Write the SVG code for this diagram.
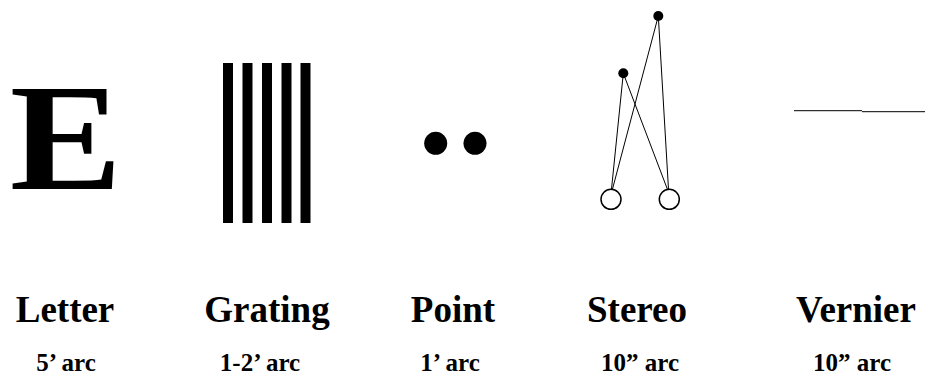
<svg xmlns="http://www.w3.org/2000/svg" width="925" height="376" viewBox="0 0 925 376">
  <style>
    .serif { font-family: "Liberation Serif", "Times New Roman", serif; font-weight: bold; fill: #000; text-anchor: middle; }
    .title { font-size: 37px; }
    .sub { font-size: 25px; }
    .thin { stroke: #000; stroke-width: 1; fill: none; }
  </style>
  <rect width="925" height="376" fill="#fff"/>

  <!-- Letter stimulus -->
  <g id="letter">
    <text class="serif" transform="translate(66 189) scale(1.1 1)" font-size="153">E</text>
    <text class="serif title" x="65" y="322">Letter</text>
    <text class="serif sub" x="66" y="371">5’ arc</text>
  </g>

  <!-- Grating stimulus -->
  <g id="grating">
    <g fill="#000">
      <rect x="223" y="63" width="10" height="160"/>
      <rect x="242.5" y="63" width="10" height="160"/>
      <rect x="262" y="63" width="10" height="160"/>
      <rect x="281.5" y="63" width="10" height="160"/>
      <rect x="300.5" y="63" width="10" height="160"/>
    </g>
    <text class="serif title" x="267" y="322">Grating</text>
    <text class="serif sub" x="260" y="371">1-2’ arc</text>
  </g>

  <!-- Point stimulus -->
  <g id="point">
    <circle cx="435.7" cy="143.3" r="11.5" fill="#000"/>
    <circle cx="475" cy="143.3" r="11.5" fill="#000"/>
    <text class="serif title" x="453" y="322">Point</text>
    <text class="serif sub" x="450" y="371">1’ arc</text>
  </g>

  <!-- Stereo stimulus -->
  <g id="stereo">
    <g class="thin">
      <line x1="623.3" y1="73.3" x2="611.5" y2="189"/>
      <line x1="623.3" y1="73.3" x2="667.5" y2="189.5"/>
      <line x1="658.3" y1="16" x2="612.5" y2="189"/>
      <line x1="658.3" y1="16" x2="668.5" y2="189.5"/>
    </g>
    <circle cx="658.3" cy="16" r="5" fill="#000"/>
    <circle cx="623.3" cy="73.3" r="5" fill="#000"/>
    <circle cx="611" cy="199.3" r="10" fill="#fff" stroke="#000" stroke-width="1.5"/>
    <circle cx="669.3" cy="199.3" r="10" fill="#fff" stroke="#000" stroke-width="1.5"/>
    <text class="serif title" x="637" y="322">Stereo</text>
    <text class="serif sub" x="640" y="371">10” arc</text>
  </g>

  <!-- Vernier stimulus -->
  <g id="vernier">
    <g class="thin">
      <line x1="794" y1="110.7" x2="862" y2="110.7"/>
      <line x1="862" y1="111.7" x2="925" y2="111.7"/>
    </g>
    <text class="serif title" x="856" y="322">Vernier</text>
    <text class="serif sub" x="852" y="371">10” arc</text>
  </g>
</svg>
